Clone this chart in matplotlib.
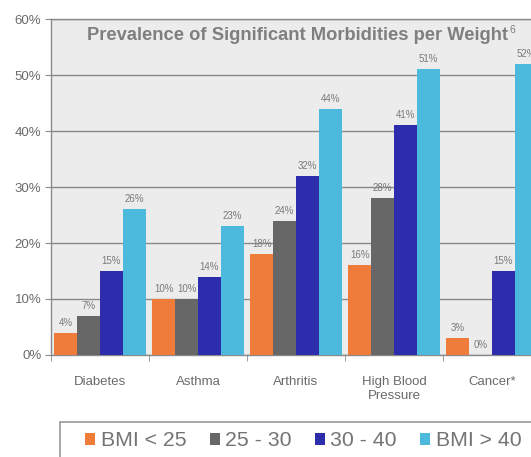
import numpy as np
import matplotlib

matplotlib.use("Agg")
import matplotlib.pyplot as plt
from matplotlib.patches import Patch, Rectangle

categories = ["Diabetes", "Asthma", "Arthritis", "High Blood\nPressure", "Cancer*"]
series_names = ["BMI < 25", "25 - 30", "30 - 40", "BMI > 40"]
bmi_under_25 = [4, 10, 18, 16, 3]
bmi_25_30 = [7, 10, 24, 28, 0]
bmi_30_40 = [15, 14, 32, 41, 15]
bmi_over_40 = [26, 23, 44, 51, 52]
colors = ["#f07c3c", "#676767", "#2c2cac", "#4cbadc"]

plt.rcParams["font.family"] = ["Liberation Sans", "DejaVu Sans"]

fig = plt.figure(figsize=(5.31, 4.57), dpi=100)
fig.patch.set_facecolor("white")
ax = fig.add_axes([0.096, 0.2232, 0.9228, 0.7352])
ax.set_facecolor("#ececec")

series = [bmi_under_25, bmi_25_30, bmi_30_40, bmi_over_40]
x = np.arange(len(categories))
width = 0.2325
for i, (vals, color) in enumerate(zip(series, colors)):
    pos = x + (i - 1.5) * width
    ax.bar(pos, vals, width=width, color=color, zorder=3)
    for px, v in zip(pos, vals):
        ax.text(px, v + 0.9, f"{v}%", ha="center", va="bottom",
                fontsize=7, color="#7a7a7a", zorder=4)

ax.set_xlim(-0.5, len(categories) - 0.5)
ax.set_ylim(0, 60)
ax.set_yticks(range(0, 61, 10))
ax.set_yticklabels([f"{t}%" for t in range(0, 61, 10)], fontsize=9.5, color="#6a6a6a")
ax.yaxis.grid(True, color="#8a8a8a", linewidth=1.0, zorder=1)
ax.tick_params(axis="y", length=4, color="#8a8a8a", pad=3)

ax.set_xticks(x)
ax.set_xticklabels(categories, fontsize=9.5, color="#6a6a6a")
ax.set_xticks(np.arange(len(categories)) - 0.5, minor=True)
ax.tick_params(axis="x", which="major", length=0, pad=15)
ax.tick_params(axis="x", which="minor", length=4, color="#8a8a8a")

for side in ["left", "bottom", "top"]:
    ax.spines[side].set_color("#8a8a8a")
    ax.spines[side].set_linewidth(1.0)
ax.spines["right"].set_visible(False)

title = ax.text(0.0745, 0.952, "Prevalence of Significant Morbidities per Weight",
                transform=ax.transAxes, fontsize=13.2, fontweight="bold",
                color="#7f7f7f", ha="left", va="center", zorder=5)
ax.annotate("6", xy=(1, 0.8), xycoords=title, xytext=(0.5, 0),
            textcoords="offset points", fontsize=7.5, color="#7f7f7f",
            ha="left", va="center", zorder=5)

# legend box runs off the right and bottom edges
fig.patches.append(Rectangle((60 / 531, -0.1), 1.0, 0.1 + 1 - 422 / 457,
                             transform=fig.transFigure, facecolor="white",
                             edgecolor="#999999", linewidth=1.2, zorder=0))
handles = [Patch(facecolor=c, edgecolor="none") for c in colors]
leg = fig.legend(handles, series_names, loc="center left",
                 bbox_to_anchor=(85 / 531, 1 - 441 / 457), borderaxespad=0,
                 ncol=4, fontsize=15.3, frameon=False, handlelength=0.48,
                 handleheight=0.48, handletextpad=0.25, columnspacing=1.1,
                 borderpad=0, labelcolor="#747474")

fig.savefig("out.png", dpi=100)
